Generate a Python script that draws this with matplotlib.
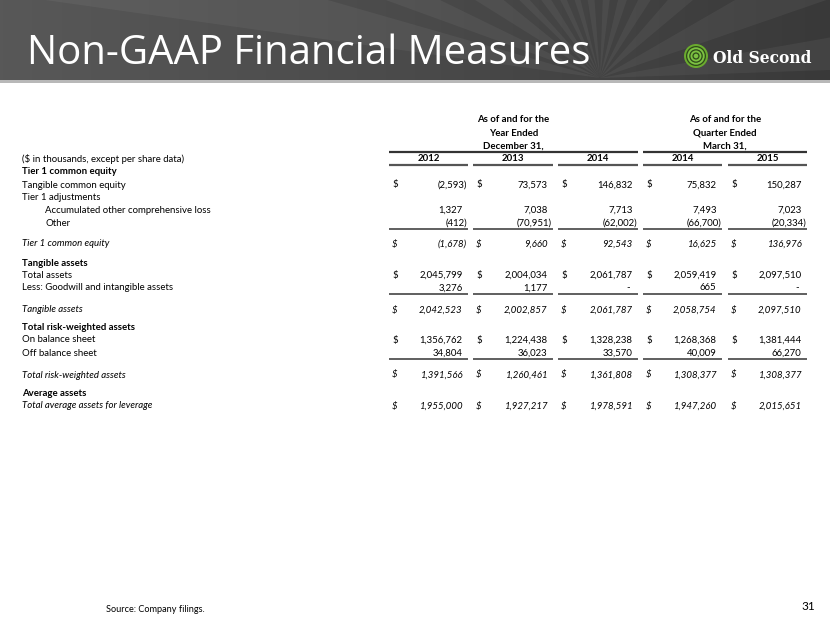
import numpy as np
import matplotlib.pyplot as plt
from matplotlib.patches import Polygon, Rectangle, Circle
from matplotlib.colors import LinearSegmentedColormap

# column headings
groups = ['As of and for the\nYear Ended\nDecember 31,', 'As of and for the\nQuarter Ended\nMarch 31,']
years = ['2012', '2013', '2014', '2014', '2015']

# table values ($ in thousands)
tangible_common_equity = [-2593, 73573, 146832, 75832, 150287]
aoci_loss = [1327, 7038, 7713, 7493, 7023]
other_adj = [-412, -70951, -62002, -66700, -20334]
tier1_common_equity = [-1678, 9660, 92543, 16625, 136976]
total_assets = [2045799, 2004034, 2061787, 2059419, 2097510]
goodwill_intangibles = [3276, 1177, 0, 665, 0]
tangible_assets = [2042523, 2002857, 2061787, 2058754, 2097510]
on_balance_sheet = [1356762, 1224438, 1328238, 1268368, 1381444]
off_balance_sheet = [34804, 36023, 33570, 40009, 66270]
total_rwa = [1391566, 1260461, 1361808, 1308377, 1308377]
avg_assets_leverage = [1955000, 1927217, 1978591, 1947260, 2015651]

# (label, style, values, dollar sign, indent, rule below)
rows = [
    ('($ in thousands, except per share data)', 'normal', None, False, False, False),
    ('Tier 1 common equity', 'bold', None, False, False, False),
    ('Tangible common equity', 'normal', tangible_common_equity, True, False, False),
    ('Tier 1 adjustments', 'normal', None, False, False, False),
    ('Accumulated other comprehensive loss', 'normal', aoci_loss, False, True, False),
    ('Other', 'normal', other_adj, False, True, True),
    ('Tier 1 common equity', 'italic', tier1_common_equity, True, False, False),
    ('Tangible assets', 'bold', None, False, False, False),
    ('Total assets', 'normal', total_assets, True, False, False),
    ('Less: Goodwill and intangible assets', 'normal', goodwill_intangibles, False, False, True),
    ('Tangible assets', 'italic', tangible_assets, True, False, False),
    ('Total risk-weighted assets', 'bold', None, False, False, False),
    ('On balance sheet', 'normal', on_balance_sheet, True, False, False),
    ('Off balance sheet', 'normal', off_balance_sheet, False, False, True),
    ('Total risk-weighted assets', 'italic', total_rwa, True, False, False),
    ('Average assets', 'bold', None, False, False, False),
    ('Total average assets for leverage', 'italic', avg_assets_leverage, True, False, False),
]
row_y = [159, 172, 185, 198, 210.5, 223, 244, 263, 275.5, 288, 310, 327, 340, 353, 375, 393, 406]

col_x0 = [389, 473, 558, 643, 728]
col_x1 = [468, 553, 638, 722, 807]

W, H = 830, 623
fig = plt.figure(figsize=(W / 100, H / 100), dpi=100)
ax = fig.add_axes([0, 0, 1, 1])
ax.set_xlim(0, W)
ax.set_ylim(H, 0)
ax.axis('off')

FONT = 'Lato'
FS = 6.9


def fmt(v):
    if v == 0:
        return '-'
    if v < 0:
        return '({:,})'.format(-v)
    return '{:,}'.format(v)


def fit_text(x, y, s, width, **kw):
    t = ax.text(x, y, s, fontsize=20, **kw)
    r = fig.canvas.get_renderer()
    w = t.get_window_extent(renderer=r).width
    t.set_fontsize(20 * width / w)
    return t


# header band
grad = np.linspace(0, 1, 256)[None, :]
cm = LinearSegmentedColormap.from_list('hdr', ['#585858', '#4a4a4a', '#393939'])
ax.imshow(grad, extent=(0, W, 80, 0), cmap=cm, aspect='auto', zorder=0)
clip = Rectangle((0, 0), W, 80, transform=ax.transData)
cx, cy = 600, 78
for a0, a1 in [(188, 196), (200, 206), (212, 219), (224, 228), (233, 238), (243, 247),
               (252, 256), (261, 266), (272, 277), (283, 289), (296, 303), (311, 320),
               (330, 341), (350, 358)]:
    t0, t1 = np.radians(a0), np.radians(a1)
    R = 900
    poly = Polygon([(cx, cy), (cx + R * np.cos(t0), cy + R * np.sin(t0)),
                    (cx + R * np.cos(t1), cy + R * np.sin(t1))],
                   closed=True, facecolor='white', alpha=0.05, edgecolor='none', zorder=1)
    ax.add_patch(poly)
    poly.set_clip_path(clip)
ax.add_patch(Rectangle((0, 80), W, 2.5, facecolor='#b8b8b8', edgecolor='none', zorder=2))

fit_text(27, 64, 'Non-GAAP Financial Measures', 563, color='white', family='Open Sans',
         va='baseline', zorder=3)

# logo
for r, c in [(12, '#6aab2e'), (10, '#2f4a1a'), (8.7, '#7cc242'), (6.8, '#2f4a1a'),
             (5.5, '#7cc242'), (3.6, '#2f4a1a'), (2.3, '#7cc242')]:
    ax.add_patch(Circle((696, 56), r, facecolor=c, edgecolor='none', zorder=3))
fit_text(713, 63, 'Old Second', 99, color='white', family='DejaVu Serif',
         weight='bold', va='baseline', zorder=3)

# column group headings
for g, (i0, i1) in zip(groups, [(0, 2), (3, 4)]):
    xc = (col_x0[i0] + col_x1[i1]) / 2
    for k, line in enumerate(g.split('\n')):
        ax.text(xc, 120 + 13 * k, line, ha='center', va='center', fontsize=FS,
                family=FONT, weight='bold', color='black')
    ax.plot([col_x0[i0], col_x1[i1]], [152, 152], color='#333333', lw=1.6,
            solid_capstyle='butt')

for yr, x0, x1 in zip(years, col_x0, col_x1):
    ax.text((x0 + x1) / 2, 158.5, yr, ha='center', va='center', fontsize=FS,
            family=FONT, weight='bold')
    ax.plot([x0, x1], [164.5, 164.5], color='#555555', lw=1.6, solid_capstyle='butt')

# rows
for (label, style, vals, dollar, indent, rule), y in zip(rows, row_y):
    kw = dict(fontsize=FS, family=FONT, va='center', color='black')
    if style == 'bold':
        kw['weight'] = 'bold'
    if style == 'italic':
        kw['style'] = 'italic'
    ax.text(45 if indent else 22, y, label, ha='left', **kw)
    if vals is None:
        continue
    for v, x0, x1 in zip(vals, col_x0, col_x1):
        if dollar:
            ax.text(x0 + 3, y, '$', ha='left', **kw)
        xr = x1 - 1 if v < 0 else x1 - 5.5
        if v == 0:
            xr = x1 - 8
        ax.text(xr, y, fmt(v), ha='right', **kw)
    if rule:
        for x0, x1 in zip(col_x0, col_x1):
            ax.plot([x0, x1], [y + 5.5, y + 5.5], color='#444444', lw=1.2,
                    solid_capstyle='butt')

# footer
ax.text(106, 609, 'Source: Company filings.', fontsize=6.6, family=FONT, va='center')
ax.text(815, 606, '31', fontsize=8.5, family=FONT, va='center', ha='right')

fig.savefig('out.png', dpi=100)
